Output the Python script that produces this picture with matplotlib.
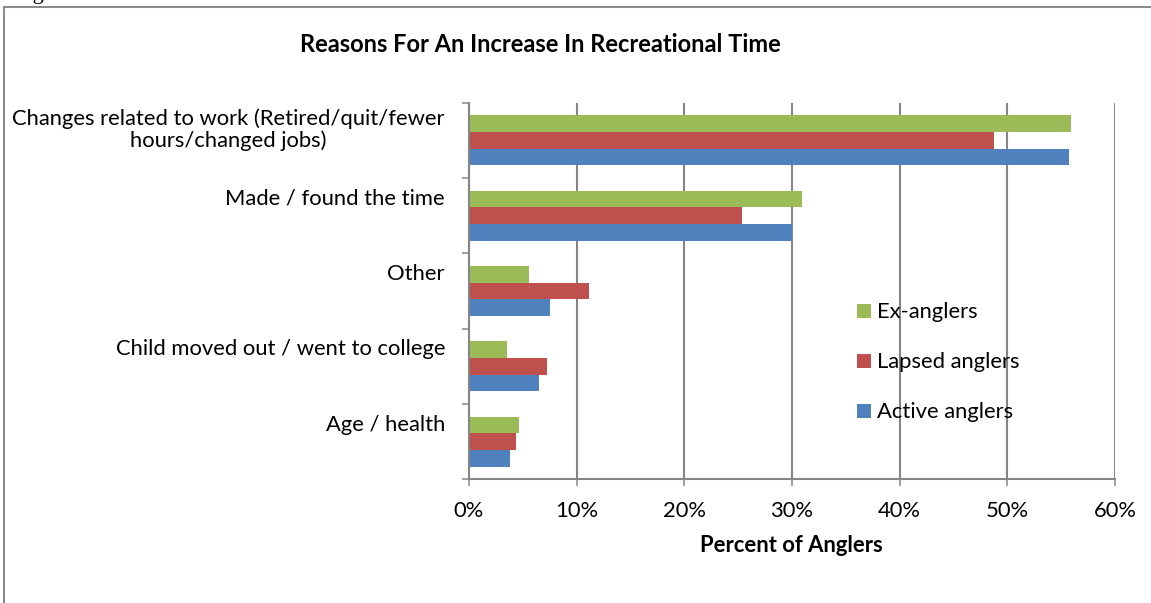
import matplotlib
matplotlib.use("Agg")
import matplotlib.pyplot as plt
import matplotlib.transforms as mtransforms
from matplotlib.lines import Line2D
from matplotlib.patches import Patch
import numpy as np

# ---------------- data ----------------
categories = [
    "Changes related to work (Retired/quit/fewer\nhours/changed jobs)",
    "Made / found the time",
    "Other",
    "Child moved out / went to college",
    "Age / health",
]
series_names = ["Ex-anglers", "Lapsed anglers", "Active anglers"]
ex_anglers = [55.9, 30.9, 5.6, 3.5, 4.6]
lapsed_anglers = [48.8, 25.4, 11.1, 7.2, 4.4]
active_anglers = [55.7, 30.0, 7.5, 6.5, 3.8]
x_ticks = [0, 10, 20, 30, 40, 50, 60]
x_tick_labels = [f"{v}%" for v in x_ticks]
title = "Reasons For An Increase In Recreational Time"
x_label = "Percent of Anglers"
colors = ["#9BBB59", "#C0504D", "#4F81BD"]
grid_color = "#868686"

# ---------------- figure ----------------
W, H, DPI = 1151, 603, 100
plt.rcParams["font.family"] = ["Lato", "DejaVu Sans"]
fig = plt.figure(figsize=(W / DPI, H / DPI), dpi=DPI)
renderer = fig.canvas.get_renderer()


def px_x(x):
    return x / W


def px_y(y):
    return 1 - y / H


def fit_size(text, target_px, weight="normal", base=12.0):
    size = base
    for _ in range(2):
        t = fig.text(0, 0, text, fontsize=size, weight=weight)
        w = t.get_window_extent(renderer).width
        t.remove()
        size = size * target_px / w
    return size


fs = fit_size("Changes related to work (Retired/quit/fewer", 433)
fs_title = fit_size(title, 480, weight="bold")
fs_xlabel = fit_size(x_label, 182, weight="bold")
fs_px = fs * DPI / 72

ax_left, ax_right, ax_top, ax_bottom = 469, 1115, 102.7, 479.3
ax = fig.add_axes([px_x(ax_left), px_y(ax_bottom),
                   (ax_right - ax_left) / W, (ax_bottom - ax_top) / H])

n = len(categories)
idx = np.arange(n)
bar_h = 2 / 9
for k, (vals, name, c) in enumerate(zip([ex_anglers, lapsed_anglers, active_anglers],
                                         series_names, colors)):
    ax.barh(idx + (k - 1) * bar_h, vals, height=bar_h, color=c, label=name,
            zorder=3, linewidth=0)

ax.set_ylim(n - 0.5, -0.5)
ax.set_xlim(0, 60)

# grid & spines
ax.grid(axis="x", color=grid_color, lw=1.5, zorder=1)
ax.set_axisbelow(True)
for s in ["top", "right"]:
    ax.spines[s].set_visible(False)
for s in ["left", "bottom"]:
    ax.spines[s].set_color(grid_color)
    ax.spines[s].set_linewidth(1.5)
    ax.spines[s].set_zorder(4)

# x ticks
ax.set_xticks(x_ticks)
ax.set_xticklabels(x_tick_labels, fontsize=fs, color="black")
ax.tick_params(axis="x", length=5, width=1.1, color=grid_color, pad=10.5)

# y ticks at category boundaries, labels placed manually
ax.set_yticks(np.arange(n + 1) - 0.5)
ax.set_yticklabels([])
ax.tick_params(axis="y", length=5, width=1.1, color=grid_color)

for i, lab in enumerate(categories):
    nlines = lab.count("\n") + 1
    off_px = -11 + 17.5 * (nlines - 1)
    tr = ax.get_yaxis_transform() + mtransforms.ScaledTranslation(
        -24 / DPI, -off_px / DPI, fig.dpi_scale_trans)
    ax.text(0, i, lab, transform=tr, ha="right", va="baseline",
            multialignment="center", fontsize=fs, color="black",
            linespacing=1.05)

# title & axis label
fig.text(px_x(540), px_y(52), title, ha="center", va="baseline",
         fontsize=fs_title, weight="bold")
fig.text(px_x(791), px_y(552), x_label, ha="center", va="baseline",
         fontsize=fs_xlabel, weight="bold")

# legend
handles = [Patch(facecolor=c, edgecolor="none") for c in colors]
fig.legend(handles, series_names, loc="center left",
           bbox_to_anchor=(px_x(857), px_y(362.5)), frameon=False,
           fontsize=fs, handlelength=14 / fs_px, handleheight=14 / fs_px,
           handletextpad=6 / fs_px, labelspacing=30 / fs_px,
           borderpad=0, borderaxespad=0)

# outer chart border (right/bottom edges outside the image)
fig.add_artist(Line2D([px_x(3.5), 1.01], [px_y(6.5), px_y(6.5)],
                      transform=fig.transFigure, color="#8c8c8c", lw=1.5))
fig.add_artist(Line2D([px_x(3.5), px_x(3.5)], [px_y(6.5), -0.01],
                      transform=fig.transFigure, color="#8c8c8c", lw=1.5))

# caption above the chart, clipped by the image edge as in the reference
fig.text(px_x(14), px_y(-1.5), "Figure", family=["Liberation Serif"],
         fontsize=16, va="baseline")

fig.savefig("out.png", dpi=DPI)
